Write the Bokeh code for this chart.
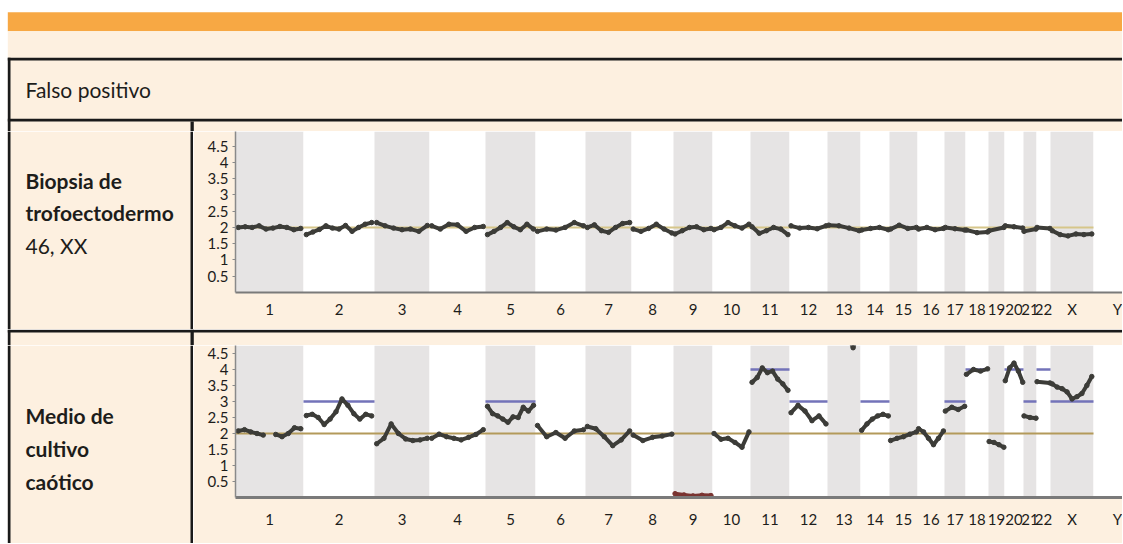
import math
from bokeh.plotting import figure
from bokeh.layouts import row, column
from bokeh.models import Range1d, FixedTicker, NumeralTickFormatter, CustomJSTickFormatter
from bokeh.core.properties import value
from bokeh.embed import file_html
from bokeh.resources import INLINE

# ---------------- data ----------------
chrom_names = ["1", "2", "3", "4", "5", "6", "7", "8", "9", "10", "11", "12",
               "13", "14", "15", "16", "17", "18", "19", "20", "21", "22", "X", "Y"]
# relative chromosome lengths as drawn on the genome axis
chrom_len = [68, 71, 55, 56, 50, 50, 46, 42, 39, 38, 39, 38,
             33, 29, 28, 27, 21, 23, 16, 19, 13, 14, 43, 48]

y_ticks = [0.5, 1, 1.5, 2, 2.5, 3, 3.5, 4, 4.5]
normal_copy_number = 2

NAN = float("nan")

# Panel 1: Biopsia de trofoectodermo (46, XX) - copy number per chromosome
biopsia_cn = [
    [2.0, 2.02, 2.0, 2.05, 1.95, 1.98, 2.03, 2.0, 1.93, 1.97],
    [1.78, 1.86, 1.94, 2.05, 1.98, 1.95, 2.06, 1.88, 2.0, 2.1, 2.15],
    [2.15, 2.05, 1.98, 1.93, 1.95, 1.88, 2.06],
    [2.05, 1.95, 2.1, 2.08, 1.88, 2.0, 2.03],
    [1.78, 1.88, 2.0, 2.15, 2.02, 1.93, 2.1, 1.95],
    [1.88, 1.95, 1.92, 2.0, 2.15, 2.05],
    [2.0, 2.08, 1.9, 1.85, 2.0, 2.12, 2.15],
    [1.95, 1.88, 1.97, 2.1, 1.95, 1.83],
    [1.8, 1.9, 2.0, 2.02, 1.93, 1.97],
    [1.93, 2.0, 2.15, 2.05, 1.98, 2.1],
    [2.02, 1.82, 1.9, 2.0, 1.95, 1.78],
    [2.05, 1.98, 2.0, 1.96, 2.05],
    [2.07, 2.05, 1.98, 1.9],
    [1.92, 1.97, 2.0, 1.93],
    [1.95, 2.07, 1.97, 2.0],
    [1.95, 2.0, 1.93, 1.97],
    [2.0, 1.96, 1.92],
    [1.92, 1.84, 1.86],
    [1.9, 2.0],
    [2.05, 2.02, 1.98],
    [1.88, 1.95],
    [2.0, 1.97],
    [1.9, 1.78, 1.74, 1.8, 1.78, 1.8],
    [],
]

# Panel 2: Medio de cultivo caotico - copy number per chromosome
medio_cn = [
    [2.08, 2.12, 2.05, 2.0, 1.95, NAN, 1.97, 1.9, 2.0, 2.18, 2.15],
    [2.56, 2.6, 2.5, 2.28, 2.45, 2.68, 3.08, 2.88, 2.62, 2.45, 2.6, 2.55],
    [1.68, 1.85, 2.3, 2.0, 1.83, 1.78, 1.8, 1.85],
    [1.85, 1.98, 1.9, 1.85, 1.8, 1.88, 1.97, 2.12],
    [2.85, 2.62, 2.55, 2.45, 2.35, 2.52, 2.5, 2.82, 2.7, 2.88],
    [2.25, 1.9, 2.03, 1.85, 2.08, 2.12],
    [2.22, 2.15, 1.9, 1.62, 1.8, 2.08],
    [1.95, 1.78, 1.88, 1.92, 1.98],
    [0.12, 0.08, 0.05, 0.07, 0.06],
    [2.0, 1.82, 1.85, 1.72, 1.57, 2.05],
    [3.6, 3.75, 4.05, 3.9, 3.95, 3.7, 3.55, 3.35],
    [2.65, 2.88, 2.7, 2.4, 2.55, 2.3],
    [5.3, 5.2, 5.4, 5.1, 4.68, 5.2],
    [2.1, 2.3, 2.45, 2.55, 2.6, 2.55],
    [1.78, 1.85, 1.9, 1.98, 2.05],
    [2.15, 2.05, 1.85, 1.65, 1.85, 2.08],
    [2.7, 2.82, 2.75, 2.85],
    [3.85, 4.0, 3.95, 4.02],
    [1.75, 1.72, 1.65, 1.57],
    [3.65, 4.05, 4.2, 3.95, 3.6],
    [2.55, 2.5, 2.48],
    [3.62, 3.58],
    [3.55, 3.45, 3.4, 3.3, 3.08, 3.15, 3.25, 3.5, 3.78],
    [],
]

# copy-number calls (blue segments) in panel 2
medio_call_chrom = ["2", "5", "11", "12", "14", "17", "18", "20", "21", "22", "X"]
medio_call_value = [3, 3, 4, 3, 3, 3, 4, 4, 3, 4, 3]

# ---------------- style ----------------
CREAM = "#fdf0e0"
ORANGE = "#f7a844"
INK = "#1d1d1b"
RULE = "#1a1a1a"
BAND_GRAY = "#e6e4e4"
BAND_WHITE = "#ffffff"
FONT = "Lato"
TXT = "21px"
TEXT_SHIFT = 8    # renderer places alphabetic baseline ~8px lower than requested

W = 1122          # page width used
LEFT_X = 7.3      # left edge of the table
BORDER_R = 10     # right edge of the left table border
DIV_L, DIV_R = 190, 193.3   # vertical divider between label and chart columns
LAB_W = 193

starts = []
acc = 0
for L in chrom_len:
    starts.append(acc)
    acc += L
ends = [s + L for s, L in zip(starts, chrom_len)]
centers = [(s + e) / 2 for s, e in zip(starts, ends)]
band_colors = [BAND_GRAY if i % 2 == 0 else BAND_WHITE for i in range(len(chrom_names))]


def panel(w, h):
    p = figure(width=w, height=h, output_backend="svg", toolbar_location=None,
               x_axis_type=None, y_axis_type=None, min_border=0,
               min_border_left=0, min_border_right=0, min_border_top=0, min_border_bottom=0,
               background_fill_color="white", border_fill_color="white",
               outline_line_color=None, x_range=Range1d(0, w), y_range=Range1d(h, 0))
    p.grid.visible = False
    return p


def rect(p, l, r, t, b, color):
    p.quad(left=[l], right=[r], top=[t], bottom=[b], fill_color=color, line_color=None)


def add_text(p, x, y, text, bold=False):
    p.text(x=[x], y=[y - TEXT_SHIFT], text=[text], text_font=value(FONT), text_font_size=TXT,
           text_font_style="bold" if bold else "normal",
           text_color=INK, text_baseline="alphabetic", text_align="left")


def chart(width, height, bottom, ymax, values, ref_color, axis_w, standoff, calls=None):
    left = 42
    p = figure(width=width, height=height, output_backend="svg", toolbar_location=None,
               x_range=Range1d(0, width - left), y_range=Range1d(0, ymax),
               min_border_left=left, min_border_right=0,
               min_border_top=0, min_border_bottom=bottom,
               background_fill_color="white", border_fill_color=CREAM,
               outline_line_color=None)
    p.grid.visible = False
    p.quad(left=starts, right=ends, bottom=0, top=ymax, fill_color=band_colors,
           line_color=None)
    x_end = ends[chrom_names.index("X")]
    p.segment(x0=[0], x1=[x_end], y0=[normal_copy_number], y1=[normal_copy_number],
              line_color=ref_color, line_width=2)
    if calls is not None:
        cchrom, cval = calls
        idx = [chrom_names.index(c) for c in cchrom]
        p.segment(x0=[starts[i] for i in idx], x1=[ends[i] for i in idx],
                  y0=cval, y1=cval, line_color="#7373b9", line_width=2.5)
    for i, vals in enumerate(values):
        n = len(vals)
        if n == 0:
            continue
        L = chrom_len[i]
        if n == 1:
            xs = [centers[i]]
        else:
            xs = [starts[i] + L * (0.04 + 0.92 * k / (n - 1)) for k in range(n)]
        finite = [v for v in vals if not math.isnan(v)]
        col = "#7a3431" if sum(finite) / len(finite) < 0.5 else "#3c3c38"
        p.line(xs, vals, line_width=4, line_color=col, line_join="round")
        p.scatter(xs, vals, size=4.5, fill_color=col, line_color=col)

    ya = p.yaxis[0]
    ya.ticker = FixedTicker(ticks=y_ticks)
    ya.formatter = NumeralTickFormatter(format="0.[0]")
    ya.axis_line_color = "#8a8a8a"
    ya.axis_line_width = 1.5
    ya.major_tick_line_color = "#8a8a8a"
    ya.major_tick_out = 3
    ya.major_tick_in = 0
    ya.minor_tick_line_color = None
    ya.major_label_standoff = 4
    ya.major_label_text_font = FONT
    ya.major_label_text_font_size = "15px"
    ya.major_label_text_color = INK

    xa = p.xaxis[0]
    xa.ticker = FixedTicker(ticks=centers)
    xa.formatter = CustomJSTickFormatter(
        args=dict(centers=centers, names=chrom_names),
        code="let b=0,d=1e9;for(let i=0;i<centers.length;i++){const e=Math.abs(centers[i]-tick);if(e<d){d=e;b=i}}return names[b];")
    xa.axis_line_color = "#7a7a7a"
    xa.axis_line_width = axis_w
    xa.major_tick_line_color = None
    xa.major_tick_out = 0
    xa.major_tick_in = 0
    xa.minor_tick_line_color = None
    xa.major_label_standoff = standoff
    xa.major_label_text_font = FONT
    xa.major_label_text_font_size = "15px"
    xa.major_label_text_color = INK
    return p


# ---- top block: orange band, cream, header row "Falso positivo" (page y 0-131)
top = panel(W, 131)
rect(top, LEFT_X, W, 11.7, 30.7, ORANGE)
rect(top, LEFT_X, W, 30.7, 131, CREAM)
rect(top, LEFT_X, W, 57.3, 60, RULE)
rect(top, LEFT_X, W, 118.3, 121, RULE)
rect(top, LEFT_X, BORDER_R, 57.3, 131, RULE)
rect(top, DIV_L, DIV_R, 121, 131, RULE)
add_text(top, 25, 97, "Falso positivo")

# ---- row 1 (page y 131-329)
H1 = 198
lab1 = panel(LAB_W, H1)
rect(lab1, LEFT_X, LAB_W, 0, H1, CREAM)
rect(lab1, LEFT_X, BORDER_R, 0, H1, RULE)
rect(lab1, DIV_L, DIV_R, 0, H1, RULE)
add_text(lab1, 25, 57, "Biopsia de", bold=True)
add_text(lab1, 25, 89, "trofoectodermo", bold=True)
add_text(lab1, 25, 122, "46, XX")
chart1 = chart(W - LAB_W, H1, 37, 4.95, biopsia_cn, "#d6c68a", 2, 7)

# ---- separator (page y 329-345)
HS = 16
sep = panel(W, HS)
rect(sep, LEFT_X, W, 0, HS, CREAM)
rect(sep, LEFT_X, W, 0.3, 3, RULE)
rect(sep, LEFT_X, BORDER_R, 0, HS, RULE)
rect(sep, DIV_L, DIV_R, 0, HS, RULE)

# ---- row 2 (page y 345-543)
H2 = 198
lab2 = panel(LAB_W, H2)
rect(lab2, LEFT_X, LAB_W, 0, H2, CREAM)
rect(lab2, LEFT_X, BORDER_R, 0, H2, RULE)
rect(lab2, DIV_L, DIV_R, 0, H2, RULE)
add_text(lab2, 25, 78, "Medio de", bold=True)
add_text(lab2, 25, 111, "cultivo", bold=True)
add_text(lab2, 25, 144, "caótico", bold=True)
chart2 = chart(W - LAB_W, H2, 46, 4.75, medio_cn, "#b39a5a", 3, 12,
               calls=(medio_call_chrom, medio_call_value))

page = column(
    top,
    row(column(lab1), chart1),
    sep,
    row(column(lab2), chart2),
)

open("out.html", "w").write(file_html(page, INLINE))
